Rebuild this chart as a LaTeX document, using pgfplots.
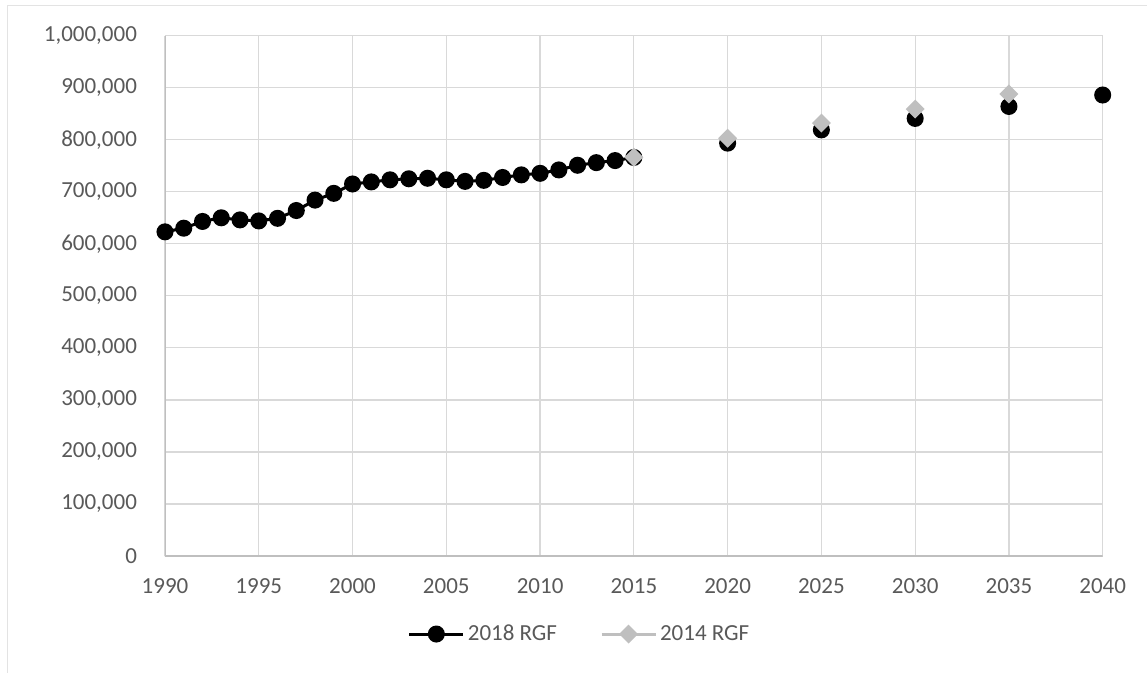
\documentclass[border=0pt]{standalone}
\usepackage{pgfplots}
\pgfplotsset{compat=1.18}
\usepackage{fontspec}
\setmainfont{Carlito}
\definecolor{tickgray}{HTML}{595959}
\definecolor{gridgray}{HTML}{D9D9D9}
\definecolor{axisgray}{HTML}{BFBFBF}
\definecolor{sergray}{HTML}{BFBFBF}
\definecolor{framegray}{HTML}{E3E3E3}
\pgfplotsset{legend image code/.code={\draw[mark repeat=2,mark phase=2,#1] plot coordinates {(0pt,0pt) (13.5pt,0pt) (27pt,0pt)};}}
\begin{document}
\begin{tikzpicture}
\useasboundingbox (0pt,0pt) rectangle (573.5pt,-336.5pt);
\begin{scope}
\clip (0pt,0pt) rectangle (573.5pt,-336.5pt);
\draw[framegray, line width=0.75pt] (3.85pt,-2.85pt) rectangle (620pt,-380pt);
\end{scope}
\begin{axis}[
  at={(82.5pt,-278pt)}, anchor=south west,
  scale only axis, width=468.85pt, height=260.15pt,
  xmin=1990, xmax=2040, ymin=0, ymax=1000000,
  xtick={1990,1995,...,2040},
  ytick={0,100000,...,1000000},
  scaled y ticks=false,
  scaled x ticks=false,
  grid=major,
  major grid style={gridgray, line width=0.6pt},
  axis line style={draw=none},
  major tick length=0pt,
  tick style={draw=none},
  /pgf/number format/assume math mode=true,
  /pgf/number format/fixed,
  /pgf/number format/precision=0,
  xticklabel style={font=\fontsize{11.5}{13}\selectfont, text=tickgray, yshift=-8pt,
    /pgf/number format/1000 sep={}},
  yticklabel style={font=\fontsize{11.5}{13}\selectfont, text=tickgray, xshift=-10.5pt,
    /pgf/number format/1000 sep={,}},
  unbounded coords=jump,
  legend columns=2,
  legend style={at={(0.4426,-0.15)}, anchor=center, draw=none, fill=none,
    font=\fontsize{11.5}{13}\selectfont, text=tickgray,
    /tikz/every even column/.append style={column sep=20pt},
    nodes={inner sep=1.5pt}},
  legend cell align=left,
]
\draw[axisgray, line width=0.65pt] (rel axis cs:0,1) -- (rel axis cs:0,0) -- (rel axis cs:1,0);
\addplot[black, line width=1.5pt, mark=*, mark size=3.5pt, mark options={draw=none, fill=black}]
table {
x y
1990 623000
1991 630000
1992 643000
1993 650000
1994 646000
1995 644000
1996 649000
1997 664000
1998 684000
1999 697000
2000 715000
2001 719000
2002 723000
2003 725000
2004 726000
2005 723000
2006 720000
2007 722000
2008 727500
2009 732500
2010 735500
2011 742000
2012 751000
2013 756000
2014 760000
2015 766000
2016 nan
2020 793500
2021 nan
2025 819000
2026 nan
2030 841000
2031 nan
2035 864000
2036 nan
2040 886000
};
\addlegendentry{2018 RGF}
\addplot[sergray, line width=1.5pt, mark=square*, mark size=2.6pt, mark options={draw=none, fill=sergray, rotate=45}]
table {
x y
2015 766500
2016 nan
2020 803000
2021 nan
2025 832000
2026 nan
2030 859000
2031 nan
2035 888000
};
\addlegendentry{2014 RGF}
\end{axis}
\end{tikzpicture}
\end{document}
